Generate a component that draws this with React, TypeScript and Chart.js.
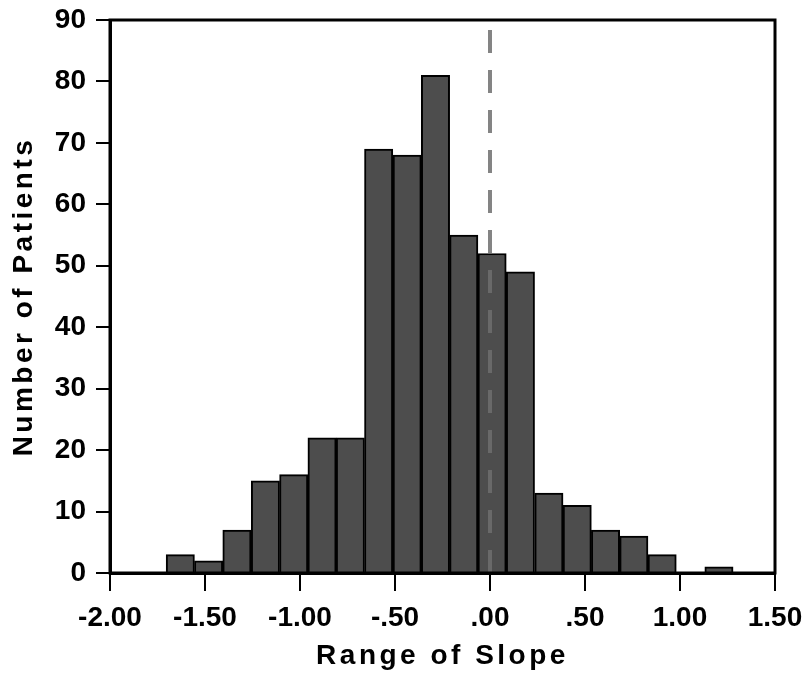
import React, { useEffect, useRef } from "react";
import { Chart, registerables } from "chart.js";

Chart.register(...registerables);

// Histogram bin centres (bin width ≈ 0.149) and patient counts
const binCenters = [
  -1.63, -1.481, -1.332, -1.182, -1.033, -0.884, -0.735, -0.586, -0.436, -0.287,
  -0.138, 0.011, 0.16, 0.31, 0.459, 0.608, 0.757, 0.906, 1.056, 1.205,
];
const patientCounts = [3, 2, 7, 15, 16, 22, 22, 69, 68, 81, 55, 52, 49, 13, 11, 7, 6, 3, 0, 1];

const xTickLabels = ["-2.00", "-1.50", "-1.00", "-.50", ".00", ".50", "1.00", "1.50"];
const yTickLabels = ["0", "10", "20", "30", "40", "50", "60", "70", "80", "90"];
const referenceValue = 0;

const FONT = "'Liberation Sans', Arial, Helvetica, sans-serif";

const titleSpacingPlugin = {
  id: "titleSpacing",
  beforeDraw(chart: any) {
    (chart.ctx as any).letterSpacing = "3.5px";
  },
  beforeDatasetsDraw(chart: any) {
    (chart.ctx as any).letterSpacing = "0px";
  },
};

const refLinePlugin = {
  id: "refLine",
  afterDatasetsDraw(chart: any) {
    const { ctx, chartArea, scales } = chart;
    const x = scales.x.getPixelForValue(referenceValue);
    ctx.save();
    ctx.strokeStyle = "rgba(110,110,110,0.85)";
    ctx.lineWidth = 4;
    ctx.setLineDash([23, 17]);
    ctx.beginPath();
    ctx.moveTo(x, chartArea.top + 10);
    ctx.lineTo(x, chartArea.bottom + 2);
    ctx.stroke();
    ctx.restore();
  },
};

const framePlugin = {
  id: "frame",
  afterDraw(chart: any) {
    const { ctx, chartArea } = chart;
    ctx.save();
    ctx.strokeStyle = "#000";
    ctx.lineWidth = 3;
    ctx.strokeRect(
      chartArea.left,
      chartArea.top,
      chartArea.right - chartArea.left,
      chartArea.bottom - chartArea.top
    );
    ctx.restore();
  },
};

export default function App() {
  const canvasRef = useRef<HTMLCanvasElement | null>(null);

  useEffect(() => {
    if (!canvasRef.current) return;
    const data = binCenters.map((c, i) => ({ x: c, y: patientCounts[i] }));
    const chart = new Chart(canvasRef.current, {
      type: "bar",
      data: {
        datasets: [
          {
            data: data as any,
            backgroundColor: "#4d4d4d",
            borderColor: "#000",
            borderWidth: 2,
            barPercentage: 1,
            categoryPercentage: 1,
          },
        ],
      },
      options: {
        animation: false,
        responsive: true,
        maintainAspectRatio: false,
        layout: { padding: { top: 20, right: 32, left: 0, bottom: 0 } },
        plugins: { legend: { display: false }, tooltip: { enabled: false } },
        scales: {
          x: {
            type: "linear",
            min: -2,
            max: 1.5,
            offset: false,
            afterFit(scale: any) {
              scale.height = 106;
              scale.paddingLeft = 0;
              scale.paddingRight = 0;
            },
            ticks: {
              stepSize: 0.5,
              autoSkip: false,
              maxRotation: 0,
              padding: 10,
              z: 1,
              color: "#000",
              font: { family: FONT, size: 28, weight: "bold" },
              callback: (_v: any, i: number) => xTickLabels[i],
            },
            grid: {
              offset: false,
              drawOnChartArea: false,
              drawTicks: true,
              tickLength: 18,
              tickColor: "#000",
              lineWidth: 2,
            },
            border: { display: true, color: "#000", width: 3 },
            title: {
              display: true,
              text: "Range of Slope",
              color: "#000",
              font: { family: FONT, size: 28, weight: "bold" },
              padding: { top: 0, bottom: 6 },
            },
          },
          y: {
            min: 0,
            max: 90,
            afterFit(scale: any) {
              scale.width = 110;
              scale.paddingTop = 0;
              scale.paddingBottom = 0;
            },
            ticks: {
              stepSize: 10,
              padding: 10,
              z: 1,
              color: "#000",
              font: { family: FONT, size: 28, weight: "bold" },
              callback: (_v: any, i: number) => yTickLabels[i],
            },
            grid: {
              drawOnChartArea: false,
              drawTicks: true,
              tickLength: 14,
              tickColor: "#000",
              lineWidth: 2,
            },
            border: { display: true, color: "#000", width: 3 },
            title: {
              display: true,
              text: "Number of Patients",
              color: "#000",
              font: { family: FONT, size: 28, weight: "bold" },
              padding: { top: 7, bottom: 0 },
            },
          },
        },
      },
      plugins: [titleSpacingPlugin, refLinePlugin, framePlugin],
    });
    return () => chart.destroy();
  }, []);

  return (
    <div style={{ position: "fixed", left: 0, top: 0, width: 807, height: 679, background: "#fff" }}>
      <canvas ref={canvasRef} />
    </div>
  );
}
